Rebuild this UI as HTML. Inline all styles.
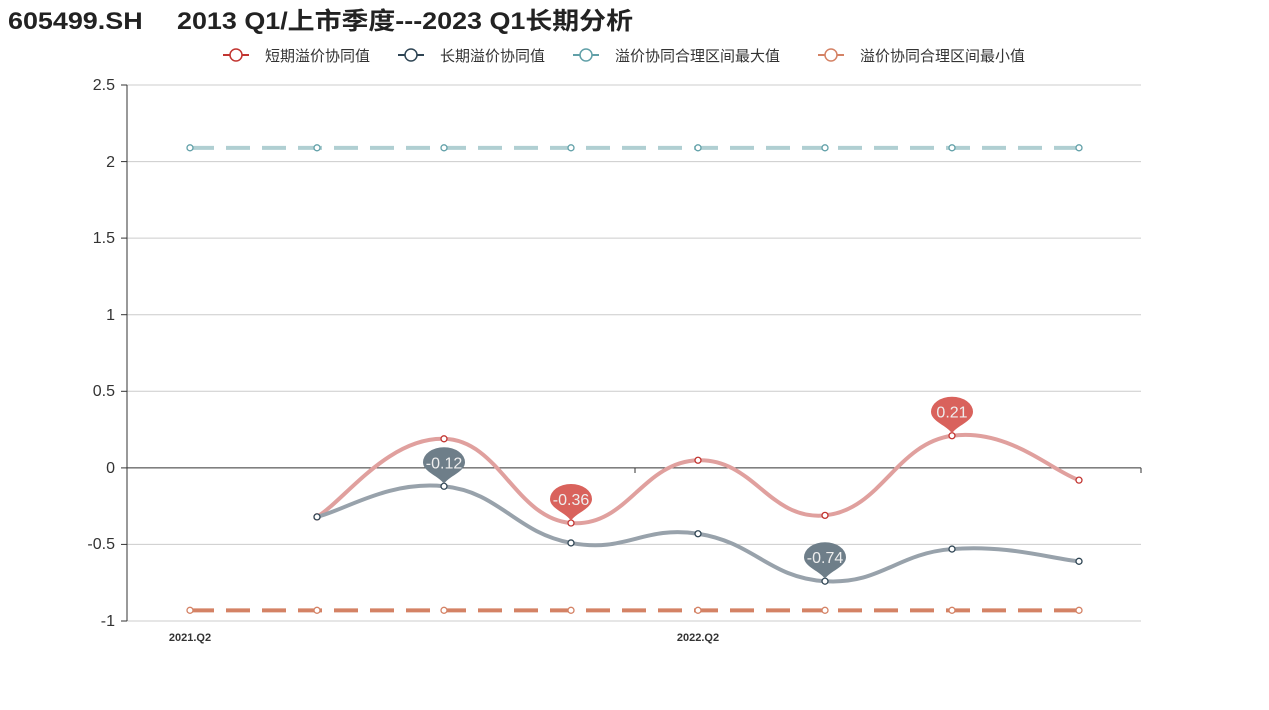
<!DOCTYPE html>
<html><head><meta charset="utf-8"><style>
body{margin:0;background:#fff;width:1269px;height:705px;overflow:hidden;font-family:"Liberation Sans","Noto Sans CJK SC",sans-serif}
</style></head><body>
<svg id="s" width="1269" height="705" xmlns="http://www.w3.org/2000/svg" font-family="Liberation Sans, Noto Sans CJK SC, sans-serif">
<text x="8" y="29" font-size="24" font-weight="bold" fill="#222" textLength="625" lengthAdjust="spacingAndGlyphs">605499.SH　 2013 Q1/上市季度---2023 Q1长期分析</text>
<g font-size="15" fill="#333">
<line x1="223" y1="55" x2="249" y2="55" stroke="#c23531" stroke-width="2"/><circle cx="236" cy="55" r="6" fill="#fff" stroke="#c23531" stroke-width="1.5"/><text x="265" y="61">短期溢价协同值</text>
<line x1="398" y1="55" x2="424" y2="55" stroke="#2f4554" stroke-width="2"/><circle cx="411" cy="55" r="6" fill="#fff" stroke="#2f4554" stroke-width="1.5"/><text x="440" y="61">长期溢价协同值</text>
<line x1="573" y1="55" x2="599" y2="55" stroke="#61a0a8" stroke-width="2"/><circle cx="586" cy="55" r="6" fill="#fff" stroke="#61a0a8" stroke-width="1.5"/><text x="615" y="61">溢价协同合理区间最大值</text>
<line x1="818" y1="55" x2="844" y2="55" stroke="#d48265" stroke-width="2"/><circle cx="831" cy="55" r="6" fill="#fff" stroke="#d48265" stroke-width="1.5"/><text x="860" y="61">溢价协同合理区间最小值</text>
</g>
<g stroke="#ccc" stroke-width="1">
<line x1="127" y1="85" x2="1141" y2="85"/><line x1="127" y1="161.6" x2="1141" y2="161.6"/><line x1="127" y1="238.1" x2="1141" y2="238.1"/><line x1="127" y1="314.7" x2="1141" y2="314.7"/><line x1="127" y1="391.3" x2="1141" y2="391.3"/><line x1="127" y1="544.4" x2="1141" y2="544.4"/><line x1="127" y1="621" x2="1141" y2="621"/>
</g>
<g stroke="#333" stroke-width="1">
<line x1="127" y1="85" x2="127" y2="621"/>
<line x1="121" y1="85" x2="127" y2="85"/><line x1="121" y1="161.6" x2="127" y2="161.6"/><line x1="121" y1="238.1" x2="127" y2="238.1"/><line x1="121" y1="314.7" x2="127" y2="314.7"/><line x1="121" y1="391.3" x2="127" y2="391.3"/><line x1="121" y1="467.9" x2="127" y2="467.9"/><line x1="121" y1="544.4" x2="127" y2="544.4"/><line x1="121" y1="621" x2="127" y2="621"/>
<line x1="127" y1="467.9" x2="1141" y2="467.9"/><line x1="635" y1="467.9" x2="635" y2="473"/><line x1="1141" y1="467.9" x2="1141" y2="473"/>
</g>
<g font-size="16" fill="#333" text-anchor="end">
<text x="115" y="90">2.5</text><text x="115" y="167">2</text><text x="115" y="243">1.5</text><text x="115" y="320">1</text><text x="115" y="396">0.5</text><text x="115" y="473">0</text><text x="115" y="549">-0.5</text><text x="115" y="626">-1</text>
</g>
<g font-size="11" font-weight="bold" fill="#333" text-anchor="middle"><text x="190" y="641">2021.Q2</text><text x="698" y="641">2022.Q2</text></g>
<g id="plot"></g>
</svg>
<script>
var X=[190,317,444,571,698,825,952,1079];
function Y(v){return 467.9-v*153.14;}
var g=document.getElementById('plot'),ns='http://www.w3.org/2000/svg';
function el(t,a){var e=document.createElementNS(ns,t);for(var k in a)e.setAttribute(k,a[k]);g.appendChild(e);return e;}
function smooth(p){var d='M'+p[0][0]+','+p[0][1];for(var i=0;i<p.length-1;i++){var p0=p[i-1]||p[i],p1=p[i],p2=p[i+1],p3=p[i+2]||p2,s=0.22;
d+=' C'+(p1[0]+(p2[0]-p0[0])*s)+','+(p1[1]+(p2[1]-p0[1])*s)+' '+(p2[0]-(p3[0]-p1[0])*s)+','+(p2[1]-(p3[1]-p1[1])*s)+' '+p2[0]+','+p2[1];}return d;}
function series(vals,xs,color,lc,dash){var p=vals.map(function(v,i){return [xs[i],Y(v)];});
var a={d:dash?('M'+p.map(function(q){return q.join(',')}).join(' L')):smooth(p),fill:'none',stroke:lc,'stroke-width':4};if(dash)a['stroke-dasharray']='24,12';el('path',a);
p.forEach(function(q){el('circle',{cx:q[0],cy:q[1],r:3,fill:'#fff',stroke:color,'stroke-width':1.3});});}
series([2.09,2.09,2.09,2.09,2.09,2.09,2.09,2.09],X,'#61a0a8','#b0cfd2',1);
series([-0.93,-0.93,-0.93,-0.93,-0.93,-0.93,-0.93,-0.93],X,'#d48265','#d48265',1);
series([-0.32,0.19,-0.36,0.05,-0.31,0.21,-0.08],X.slice(1),'#c23531','#e0a09e',0);
series([-0.32,-0.12,-0.49,-0.43,-0.74,-0.53,-0.61],X.slice(1),'#2f4554','#98a2ab',0);
function pin(x,v,c,t){var y=Y(v)-2;el('path',{d:'M'+x+','+y+' C'+(x-4)+','+(y-8)+' '+(x-21)+','+(y-12)+' '+(x-21)+','+(y-22)+' A21,15 0 1 1 '+(x+21)+','+(y-22)+' C'+(x+21)+','+(y-12)+' '+(x+4)+','+(y-8)+' '+x+','+y+' Z',fill:c});
var e=el('text',{x:x,y:y-16,'font-size':16,fill:'#eee','text-anchor':'middle'});e.textContent=t;}
pin(444,-0.12,'#6e7e89','-0.12');pin(825,-0.74,'#6e7e89','-0.74');pin(571,-0.36,'#d9625c','-0.36');pin(952,0.21,'#d9625c','0.21');
</script>
</body></html>
